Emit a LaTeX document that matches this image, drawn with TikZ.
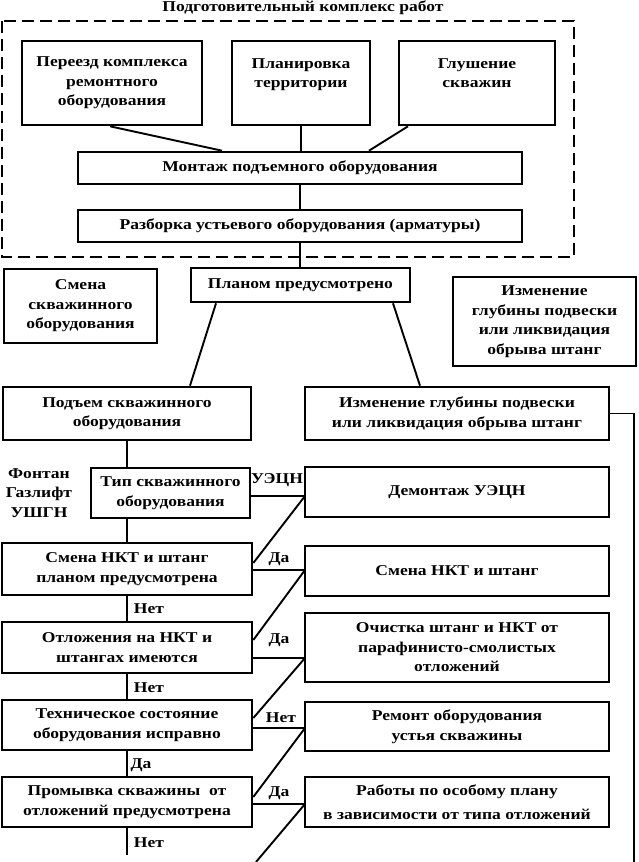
\documentclass[tikz,border=0pt]{standalone}
\usepackage{fontspec}
\setmainfont{Liberation Serif}[FakeStretch=1.17]
\begin{document}
\begin{tikzpicture}[x=1pt,y=-1pt,
  txt/.style={font=\fontsize{15}{19.5}\selectfont\bfseries, align=center, inner sep=0pt},
  box/.style={txt, draw, line width=2.6pt},
  conn/.style={line width=1.9pt},
  dashbox/.style={line width=2pt, dash pattern=on 12pt off 6pt}]
\useasboundingbox (0,0) rectangle (638,862);
\node[txt] (title) at (303,8) {Подготовительный комплекс работ};
\draw[dashbox] (2,21) rectangle (574,257);
\node[box, minimum width=180pt, minimum height=84pt] (b1) at (112,83) {Переезд комплекса\\ремонтного\\оборудования};
\node[box, minimum width=138pt, minimum height=84pt] (b2) at (301,83) {Планировка\\территории\\~};
\node[box, minimum width=156pt, minimum height=84pt] (b3) at (477,83) {Глушение\\скважин\\~};
\node[box, minimum width=444pt, minimum height=32pt] (mont) at (300,168) {Монтаж подъемного оборудования};
\node[box, minimum width=444pt, minimum height=32pt] (razb) at (300,226) {Разборка устьевого оборудования (арматуры)};
\node[box, minimum width=153pt, minimum height=74pt] (smena) at (80.5,306) {Смена\\скважинного\\оборудования};
\node[box, minimum width=219pt, minimum height=34pt] (plan) at (300.5,285) {Планом предусмотрено};
\node[box, minimum width=183pt, minimum height=89pt] (izm1) at (544.5,321.5) {Изменение\\глубины подвески\\или ликвидация\\обрыва штанг};
\node[box, minimum width=248pt, minimum height=53pt] (podem) at (127,413.5) {Подъем скважинного\\оборудования};
\node[box, minimum width=304pt, minimum height=53pt] (izm2) at (457,413.5) {Изменение глубины подвески\\или ликвидация обрыва штанг};
\node[box, minimum width=159pt, minimum height=50pt] (tip) at (170.5,493) {Тип скважинного\\оборудования};
\node[box, minimum width=304pt, minimum height=50pt] (dem) at (457,492) {Демонтаж УЭЦН};
\node[box, minimum width=250pt, minimum height=52pt] (sm2) at (127,569) {Смена НКТ и штанг\\планом предусмотрена};
\node[box, minimum width=304pt, minimum height=50pt] (smn) at (457,571) {Смена НКТ и штанг};
\node[box, minimum width=250pt, minimum height=51pt] (otl) at (127,647.5) {Отложения на НКТ и\\штангах имеются};
\node[box, minimum width=304pt, minimum height=69pt] (och) at (457,647.5) {Очистка штанг и НКТ от\\парафинисто-смолистых\\отложений};
\node[box, minimum width=250pt, minimum height=50pt] (teh) at (127,725) {Техническое состояние\\оборудования исправно};
\node[box, minimum width=304pt, minimum height=49pt] (rem) at (457,726.5) {Ремонт оборудования\\устья скважины};
\node[box, minimum width=250pt, minimum height=50pt] (prom) at (127,802) {Промывка скважины\ \ от\\отложений предусмотрена};
\node[box, minimum width=304pt, minimum height=50pt] (rab) at (457,802) {Работы по особому плану\\[4pt]в зависимости от типа отложений};
% labels
\node[txt] (fon) at (39,493) {Фонтан\\Газлифт\\УШГН};
\node[txt] (l1) at (277,480) {УЭЦН};
\node[txt] (l2) at (279,559) {Да};
\node[txt] (l3) at (149,609) {Нет};
\node[txt] (l4) at (279,640) {Да};
\node[txt] (l5) at (149,688) {Нет};
\node[txt] (l6) at (281,718) {Нет};
\node[txt] (l7) at (141,765) {Да};
\node[txt] (l8) at (279,793) {Да};
\node[txt] (l9) at (149,843) {Нет};
% coordinates
\coordinate (rb) at (634,862);
\coordinate (pend) at (127,855);
\coordinate (dfree) at (256,862);
\coordinate (j1) at (305,496);
\coordinate (j2) at (305,570);
\coordinate (j3) at (305,658);
\coordinate (j4) at (305,728);
\coordinate (j5) at (305,804);
% connectors
\draw[conn] ([xshift=-2pt]b1.south) -- ([xshift=-78pt]mont.north);
\draw[conn] (b2.south) -- (b2.south |- mont.north);
\draw[conn] ([xshift=-69pt]b3.south) -- ([xshift=69pt]mont.north);
\draw[conn] (mont.south) -- (razb.north);
\draw[conn] (razb.south) -- (razb.south |- plan.north);
\draw[conn] ([xshift=-84.5pt]plan.south) -- ([xshift=63pt]podem.north);
\draw[conn] ([xshift=92.5pt]plan.south) -- ([xshift=-37pt]izm2.north);
\draw[conn] (izm2.east) -| (rb);
\draw[conn] (podem.south) -- (podem.south |- tip.north);
\draw[conn] (tip.south -| podem.south) -- (sm2.north);
\draw[conn] (sm2.south) -- (otl.north);
\draw[conn] (otl.south) -- (teh.north);
\draw[conn] (teh.south) -- (prom.north);
\draw[conn] (prom.south) -- (pend);
\draw[conn] (tip.east |- j1) -- (j1);
\draw[conn] (sm2.east |- j2) -- (j2);
\draw[conn] (otl.east |- j3) -- (j3);
\draw[conn] (teh.east |- j4) -- (j4);
\draw[conn] (prom.east |- j5) -- (j5);
\draw[conn] ([yshift=6pt]sm2.east) -- (j1);
\draw[conn] ([yshift=7.5pt]otl.east) -- (j2);
\draw[conn] ([yshift=7pt]teh.east) -- (j3);
\draw[conn] ([yshift=5pt]prom.east) -- (j4);
\draw[conn] (dfree) -- (j5);
\end{tikzpicture}
\end{document}
